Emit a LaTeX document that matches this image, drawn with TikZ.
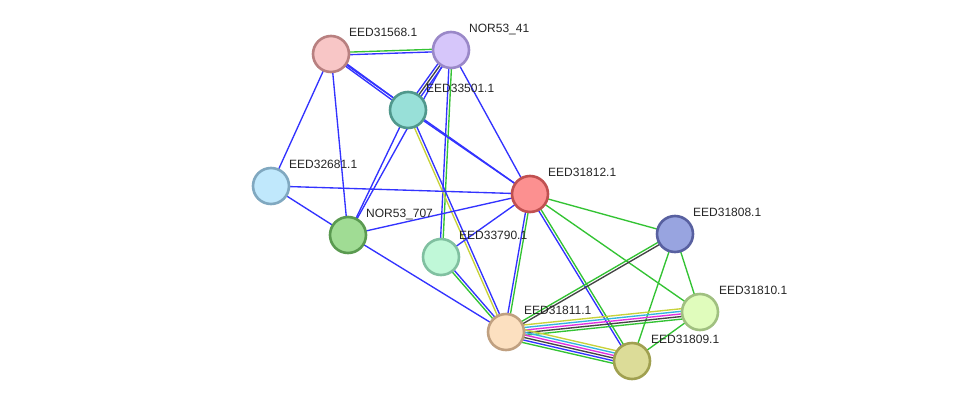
\documentclass[tikz,border=0pt]{standalone}
\usepackage{fontspec}
\setmainfont{Liberation Sans}
\usetikzlibrary{calc}
\pgfdeclarelayer{back}
\pgfdeclarelayer{bg}
\pgfsetlayers{back,bg,main}
\definecolor{cB}{HTML}{3333FF}
\definecolor{cG}{HTML}{33C333}
\definecolor{cY}{HTML}{C8D23A}
\definecolor{cC}{HTML}{33B4E0}
\definecolor{cM}{HTML}{E030E0}
\definecolor{cK}{HTML}{444444}
\tikzset{
  prot/.style={circle, minimum size=36pt, inner sep=0pt, line width=2.6pt},
  lab/.style={anchor=base west, inner sep=0pt, font=\fontsize{12}{14}\selectfont, text=black!85},
  ln/.style={line width=1.35pt}
}
\newcommand\ed[3]{\foreach \c/\o in {#3}{\draw[ln,\c] ($(#1.center)!\o!90:(#2.center)$) -- ($(#2.center)!\o!-90:(#1.center)$);}}
\begin{document}
\begin{tikzpicture}[x=1pt,y=-1pt]
\begin{pgfonlayer}{back}
\useasboundingbox[fill=white] (0,0) rectangle (976,407);
\end{pgfonlayer}
\node[prot, fill={rgb,255:red,248;green,198;blue,198}, draw={rgb,255:red,184;green,128;blue,128}] (a) at (331,54) {};
\node[prot, fill={rgb,255:red,214;green,198;blue,250}, draw={rgb,255:red,154;green,136;blue,200}] (b) at (451,50) {};
\node[prot, fill={rgb,255:red,152;green,224;blue,216}, draw={rgb,255:red,80;green,152;blue,140}] (c) at (408,110) {};
\node[prot, fill={rgb,255:red,192;green,232;blue,252}, draw={rgb,255:red,128;green,168;blue,192}] (d) at (271,186) {};
\node[prot, fill={rgb,255:red,252;green,144;blue,144}, draw={rgb,255:red,192;green,80;blue,80}] (e) at (530,194) {};
\node[prot, fill={rgb,255:red,160;green,220;blue,148}, draw={rgb,255:red,90;green,154;blue,80}] (f) at (348,235) {};
\node[prot, fill={rgb,255:red,192;green,248;blue,216}, draw={rgb,255:red,128;green,192;blue,160}] (g) at (441,257) {};
\node[prot, fill={rgb,255:red,152;green,164;blue,224}, draw={rgb,255:red,88;green,96;blue,160}] (h) at (675,234) {};
\node[prot, fill={rgb,255:red,224;green,252;blue,188}, draw={rgb,255:red,160;green,192;blue,128}] (i) at (700,312) {};
\node[prot, fill={rgb,255:red,252;green,224;blue,192}, draw={rgb,255:red,192;green,160;blue,128}] (j) at (506,332) {};
\node[prot, fill={rgb,255:red,220;green,220;blue,152}, draw={rgb,255:red,160;green,160;blue,80}] (k) at (632,361) {};
\node[lab] (la) at ($(a)+(18,-18)$) {EED31568.1};
\node[lab] (lb) at ($(b)+(18,-18)$) {NOR53\_41};
\node[lab] (lc) at ($(c)+(18,-18)$) {EED33501.1};
\node[lab] (ld) at ($(d)+(18,-18)$) {EED32681.1};
\node[lab] (le) at ($(e)+(18,-18)$) {EED31812.1};
\node[lab] (lf) at ($(f)+(18,-18)$) {NOR53\_707};
\node[lab] (lg) at ($(g)+(18,-18)$) {EED33790.1};
\node[lab] (lh) at ($(h)+(18,-18)$) {EED31808.1};
\node[lab] (li) at ($(i)+(19,-18)$) {EED31810.1};
\node[lab] (lj) at ($(j)+(18,-18)$) {EED31811.1};
\node[lab] (lk) at ($(k)+(19,-18)$) {EED31809.1};
\begin{pgfonlayer}{bg}
\ed{a}{b}{cG/1.3pt,cB/-1.3pt}
\ed{a}{c}{cB/1.3pt,cB/-1.3pt}
\ed{a}{e}{cB/0pt}
\ed{a}{d}{cB/0pt}
\ed{a}{f}{cB/0pt}
\ed{b}{c}{cB/2.6pt,cK/0pt,cB/-2.6pt}
\ed{b}{f}{cB/0pt}
\ed{b}{g}{cG/1.3pt,cB/-1.3pt}
\ed{b}{e}{cB/0pt}
\ed{c}{e}{cB/0pt}
\ed{c}{f}{cB/0pt}
\ed{c}{j}{cB/1.3pt,cY/-1.3pt}
\ed{d}{e}{cB/0pt}
\ed{d}{f}{cB/0pt}
\ed{f}{e}{cB/0pt}
\ed{f}{j}{cB/0pt}
\ed{g}{e}{cB/0pt}
\ed{g}{j}{cB/1.3pt,cG/-1.3pt}
\ed{e}{j}{cB/-1.3pt,cG/1.3pt}
\ed{e}{k}{cB/-1.3pt,cG/1.3pt}
\ed{e}{h}{cG/0pt}
\ed{e}{i}{cG/0pt}
\ed{h}{j}{cK/1.3pt,cG/-1.3pt}
\ed{h}{i}{cG/0pt}
\ed{h}{k}{cG/0pt}
\ed{j}{i}{cY/5.2pt,cC/2.6pt,cM/0pt,cK/-2.6pt,cG/-5.2pt}
\ed{j}{k}{cY/6.5pt,cC/3.9pt,cM/1.3pt,cK/-1.3pt,cB/-3.9pt,cG/-6.5pt}
\ed{i}{k}{cG/0pt}
\end{pgfonlayer}
\end{tikzpicture}
\end{document}
